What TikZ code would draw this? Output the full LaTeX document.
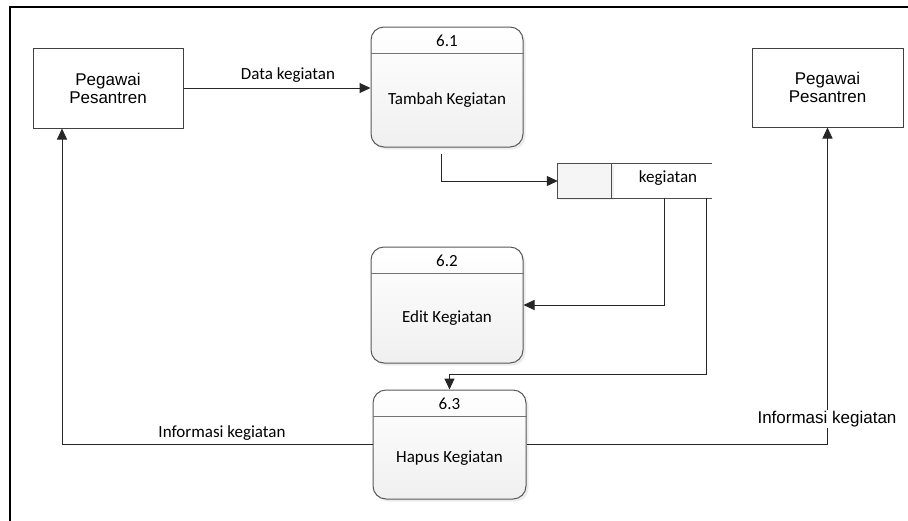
\documentclass[tikz,border=0pt]{standalone}
\usepackage{fontspec}
\setmainfont{Liberation Sans}
\newfontfamily\arialf{Liberation Sans}
\newfontfamily\calf{Carlito}
\usetikzlibrary{arrows.meta,shadows,calc}
\tikzset{
  entity/.style={draw=black!75, line width=1pt, fill=white, minimum width=150pt, minimum height=80pt,
    align=center, font=\arialf\fontsize{17}{18}\selectfont},
  proc/.style={draw=black!65, line width=1pt, rounded corners=13pt, top color=white, bottom color=black!6,
    drop shadow={opacity=0.15, shadow xshift=2.5pt, shadow yshift=-2.5pt}},
  hdr/.style={draw=black!55, line width=0.9pt},
  ptext/.style={font=\calf\fontsize{17}{19}\selectfont, inner sep=0pt},
  flow/.style={draw=black!85, line width=1pt, -{Triangle[length=11pt,width=10pt]}},
  flowlabel/.style={font=\calf\fontsize{17}{19}\selectfont, inner sep=1pt},
}
\begin{document}
\begin{tikzpicture}[x=1pt,y=-1pt]
\useasboundingbox (0,0) rectangle (908,520);
% outer frame
\draw[line width=2.5pt] (10,540) -- (10,7) -- (930,7);

% external entities
\node[entity] (e1) at (108,88) {Pegawai\\Pesantren};
\node[entity, minimum width=151pt, minimum height=79pt] (e2) at (827.5,87.5) {Pegawai\\Pesantren};

% processes
\node[proc, minimum width=152pt, minimum height=120pt] (p1) at (447,87) {};
\node[proc, minimum width=152pt, minimum height=116pt] (p2) at (447,305) {};
\node[proc, minimum width=153pt, minimum height=109pt] (p3) at (449.5,444.5) {};
\foreach \p/\num/\name in {p1/6.1/Tambah Kegiatan, p2/6.2/Edit Kegiatan, p3/6.3/Hapus Kegiatan}{
  \draw[hdr] ([yshift=-27pt]\p.north west) -- ([yshift=-27pt]\p.north east);
  \node[ptext] (\p num) at ($(\p.north)+(0,14)$) {\num};
  \node[ptext] (\p name) at ($([yshift=-27pt]\p.north)!0.5!(\p.south)$) {\name};
}

% data store
\node[minimum width=154pt, minimum height=34pt, inner sep=0pt] (ds) at (635,181) {};
\fill[black!4, drop shadow={opacity=0.12, shadow xshift=2pt, shadow yshift=-2pt}]
  (ds.north west) rectangle ([xshift=54pt]ds.south west);
\draw[black!70, line width=1pt] (ds.north east) -- (ds.north west) -- (ds.south west) -- (ds.south east);
\draw[black!70, line width=1pt] ([xshift=54pt]ds.north west) -- ([xshift=54pt]ds.south west);
\node[ptext] (dsname) at (668,178) {kegiatan};
\coordinate (dsA) at (664,198);
\coordinate (dsB) at (706,198);

% data flows
\draw[flow] (e1.east) -- (e1.east -| p1.west);
\node[flowlabel] (l1) at (288,75) {Data kegiatan};
\draw[flow] ([xshift=-6pt,yshift=-6pt]p1.south) |- (ds.west);
\draw[flow] (dsA) |- (p2.east);
\draw[flow] (dsB) -- (706,374) -| (p3.north);
\draw[flow] (p3.west) -| ([xshift=-46pt]e1.south);
\node[flowlabel] (l2) at (222,433) {Informasi kegiatan};
\draw[flow] (p3.east) -| (e2.south);
\node[fill=white, inner sep=1pt, font=\arialf\fontsize{17}{19}\selectfont] (l3) at (827,419) {Informasi kegiatan};
\end{tikzpicture}
\end{document}
